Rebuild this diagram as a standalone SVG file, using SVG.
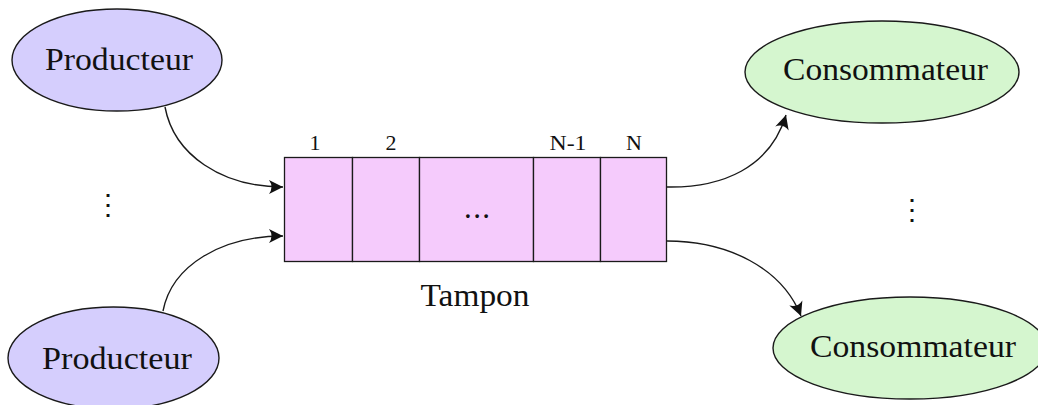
<svg xmlns="http://www.w3.org/2000/svg" width="1038" height="405" viewBox="0 0 1038 405">
<style>
  .lbl { font-family: "Liberation Serif", "DejaVu Serif", serif; font-size: 31px; fill: #111; text-anchor: middle; }
  .num { font-family: "Liberation Serif", "DejaVu Serif", serif; font-size: 22px; fill: #111; text-anchor: middle; }
  .vd { font-family: "DejaVu Serif", serif; font-size: 28px; fill: #111; text-anchor: middle; }
  .prod { fill: #d5cefd; stroke: #1a1a1a; stroke-width: 1.4; }
  .cons { fill: #d5f6cf; stroke: #1a1a1a; stroke-width: 1.4; }
  .cell { fill: #f5cbfc; stroke: #1a1a1a; stroke-width: 1.3; }
  .conn { fill: none; stroke: #1a1a1a; stroke-width: 1.4; marker-end: url(#arr); }
</style>
<defs>
  <marker id="arr" viewBox="-15 -8 17 16" markerWidth="17" markerHeight="16" refX="0" refY="0" orient="auto" markerUnits="userSpaceOnUse">
    <path d="M0,0 L-14,-7 Q-9,0 -14,7 Z" fill="#111"/>
  </marker>
</defs>

<g id="producteur1">
  <ellipse class="prod" cx="117" cy="60" rx="105" ry="51"/>
  <text class="lbl" x="119" y="70" textLength="148" lengthAdjust="spacingAndGlyphs">Producteur</text>
</g>
<g id="producteur2">
  <ellipse class="prod" cx="113.5" cy="358" rx="105.5" ry="51"/>
  <text class="lbl" x="117" y="369" textLength="150" lengthAdjust="spacingAndGlyphs">Producteur</text>
</g>
<g id="consommateur1">
  <ellipse class="cons" cx="882" cy="72" rx="137" ry="51"/>
  <text class="lbl" x="885.5" y="80" textLength="205" lengthAdjust="spacingAndGlyphs">Consommateur</text>
</g>
<g id="consommateur2">
  <ellipse class="cons" cx="910" cy="348" rx="137" ry="51"/>
  <text class="lbl" x="913" y="357" textLength="206" lengthAdjust="spacingAndGlyphs">Consommateur</text>
</g>

<g id="tampon">
  <rect class="cell" x="284.5" y="157.5" width="68" height="104"/>
  <rect class="cell" x="352.5" y="157.5" width="67" height="104"/>
  <rect class="cell" x="419.5" y="157.5" width="114" height="104"/>
  <rect class="cell" x="533.5" y="157.5" width="67" height="104"/>
  <rect class="cell" x="600.5" y="157.5" width="66" height="104"/>
  <text class="num" x="315" y="150">1</text>
  <text class="num" x="391" y="150">2</text>
  <text class="num" x="568" y="150" textLength="37" lengthAdjust="spacingAndGlyphs">N-1</text>
  <text class="num" x="634" y="150">N</text>
  <text class="lbl" x="477" y="218" font-size="34" textLength="26" lengthAdjust="spacing">...</text>
  <text class="lbl" x="475" y="306" textLength="109" lengthAdjust="spacingAndGlyphs">Tampon</text>
</g>

<g id="vdots-gauche">
  <text class="vd" x="108" y="214">⋮</text>
</g>
<g id="vdots-droite">
  <text class="vd" x="912" y="219">⋮</text>
</g>

<g id="connecteurs">
  <path class="conn" d="M165,107 C174,155 222,187 283,187"/>
  <path class="conn" d="M163,311 C172,265 222,236 283,236"/>
  <path class="conn" d="M667,187 C722,188 770,168 786,115"/>
  <path class="conn" d="M667,241 C728,241 782,268 801,316"/>
</g>
</svg>
